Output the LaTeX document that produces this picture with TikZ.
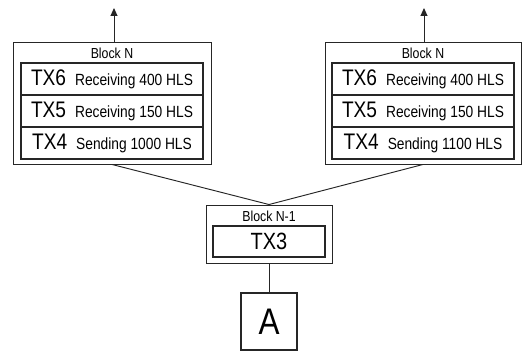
\documentclass[tikz,border=0pt]{standalone}
\usepackage{fontspec}
\setmainfont[FakeStretch=0.85]{Liberation Sans}
\usetikzlibrary{arrows.meta, positioning}

\newcommand{\txrowtext}[2]{{\fontsize{22.5}{22}\selectfont #1}\hspace{9pt}{\fontsize{16.2}{16}\selectfont #2}}

\begin{document}
\begin{tikzpicture}[x=1pt, y=1pt,
  frame/.style={draw=black!85, line width=0.95pt, inner sep=0pt},
  txrow/.style={draw=black!85, line width=1.1pt, minimum width=182pt, minimum height=32pt, inner sep=0pt},
  blocktitle/.style={inner sep=0pt, font=\fontsize{14.5}{15}\selectfont},
  link/.style={draw=black!85, line width=0.95pt}]
  \useasboundingbox (0,0) rectangle (524,351);
  % 左侧区块
  \node[frame, minimum width=198pt, minimum height=122pt] (blkL) at (112,248) {};
  \node[blocktitle] (titL) at (112,298) {Block N};
  \node[txrow] (l6) at (112,272) {\txrowtext{TX6}{Receiving 400 HLS}};
  \node[txrow, below=-1.1pt of l6] (l5) {\txrowtext{TX5}{Receiving 150 HLS}};
  \node[txrow, below=-1.1pt of l5] (l4) {\txrowtext{TX4}{Sending 1000 HLS}};
  % 右侧区块
  \node[frame, minimum width=196pt, minimum height=122pt] (blkR) at (423,248) {};
  \node[blocktitle] (titR) at (423,298) {Block N};
  \node[txrow] (r6) at (423,272) {\txrowtext{TX6}{Receiving 400 HLS}};
  \node[txrow, below=-1.1pt of r6] (r5) {\txrowtext{TX5}{Receiving 150 HLS}};
  \node[txrow, below=-1.1pt of r5] (r4) {\txrowtext{TX4}{Sending 1100 HLS}};
  % 上一区块
  \node[frame, minimum width=126pt, minimum height=58pt] (blkP) at (269,117) {};
  \node[blocktitle] (titP) at (269,135) {Block N-1};
  \node[txrow, minimum width=112pt, minimum height=31pt, font=\fontsize{23.5}{23}\selectfont] (tx3) at (269,109.5) {TX3};
  % 节点 A
  \node[frame, line width=1.1pt, minimum width=56pt, minimum height=57pt, font=\fontsize{37}{37}\selectfont] (nodeA) at (269,29.5) {A};
  % 向上箭头
  \coordinate (topL) at (114,343);
  \coordinate (topR) at (424,343);
  \draw[link, -{Triangle[length=8pt, width=7pt]}] (blkL.north -| topL) -- (topL);
  \draw[link, -{Triangle[length=8pt, width=7pt]}] (blkR.north -| topR) -- (topR);
  % 连线
  \draw[link] (blkL.south) -- (blkP.north);
  \draw[link] (blkR.south) -- (blkP.north);
  \draw[link] (blkP.south) -- (nodeA.north);
\end{tikzpicture}
\end{document}
